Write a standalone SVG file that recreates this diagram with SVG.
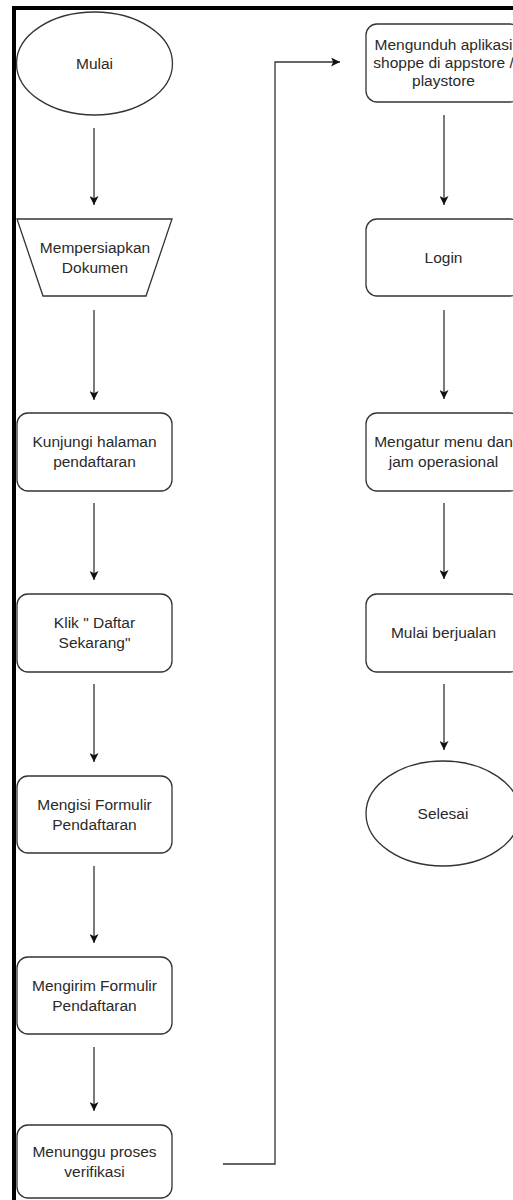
<svg xmlns="http://www.w3.org/2000/svg" width="513" height="1200" viewBox="0 0 513 1200">
<style>
.shape{fill:#ffffff;stroke:#333333;stroke-width:1.3}
.lbl{font-family:"Liberation Sans",Arial,sans-serif;font-size:15.5px;fill:#2a2a2a;text-anchor:middle}
.edge{fill:none;stroke:#333333;stroke-width:1.3}
</style>
<defs>
<marker id="arr" viewBox="0 0 10 10" refX="10" refY="5" markerWidth="10" markerHeight="9" markerUnits="userSpaceOnUse" orient="auto">
<path d="M0,0 L10,5 L0,10 L2.5,5 z" fill="#111111"/>
</marker>
</defs>
<rect x="0" y="0" width="513" height="1200" fill="#ffffff"/>
<path d="M14,1200 V8 H513" fill="none" stroke="#000000" stroke-width="4"/>

<g id="mulai">
<ellipse class="shape" cx="94.5" cy="63.5" rx="78" ry="51.5"/>
<text class="lbl" x="94.5" y="68.5">Mulai</text>
</g>
<g id="mempersiapkan">
<polygon class="shape" points="17,219 172,219 146,296 43,296"/>
<text class="lbl" x="95" y="253">Mempersiapkan</text>
<text class="lbl" x="95" y="273">Dokumen</text>
</g>
<g id="kunjungi">
<rect class="shape" x="17" y="413" width="155" height="78" rx="11"/>
<text class="lbl" x="94.5" y="447">Kunjungi halaman</text>
<text class="lbl" x="94.5" y="467">pendaftaran</text>
</g>
<g id="klik">
<rect class="shape" x="17" y="594" width="155" height="78" rx="11"/>
<text class="lbl" x="94.5" y="628">Klik &quot; Daftar</text>
<text class="lbl" x="94.5" y="648">Sekarang&quot;</text>
</g>
<g id="mengisi">
<rect class="shape" x="17" y="776" width="155" height="77" rx="11"/>
<text class="lbl" x="94.5" y="810">Mengisi Formulir</text>
<text class="lbl" x="94.5" y="830">Pendaftaran</text>
</g>
<g id="mengirim">
<rect class="shape" x="17" y="957" width="155" height="77" rx="11"/>
<text class="lbl" x="94.5" y="991">Mengirim Formulir</text>
<text class="lbl" x="94.5" y="1011">Pendaftaran</text>
</g>
<g id="menunggu">
<rect class="shape" x="17" y="1125" width="155" height="73" rx="11"/>
<text class="lbl" x="94.5" y="1157">Menunggu proses</text>
<text class="lbl" x="94.5" y="1177">verifikasi</text>
</g>

<g id="mengunduh">
<rect class="shape" x="366" y="24" width="155" height="78" rx="11"/>
<text class="lbl" x="443.5" y="50">Mengunduh aplikasi</text>
<text class="lbl" x="443.5" y="68">shoppe di appstore /</text>
<text class="lbl" x="443.5" y="86">playstore</text>
</g>
<g id="login">
<rect class="shape" x="366" y="219" width="155" height="77" rx="11"/>
<text class="lbl" x="443.5" y="263">Login</text>
</g>
<g id="mengatur">
<rect class="shape" x="366" y="413" width="155" height="78" rx="11"/>
<text class="lbl" x="443.5" y="447">Mengatur menu dan</text>
<text class="lbl" x="443.5" y="467">jam operasional</text>
</g>
<g id="berjualan">
<rect class="shape" x="366" y="594" width="155" height="78" rx="11"/>
<text class="lbl" x="443.5" y="638">Mulai berjualan</text>
</g>
<g id="selesai">
<ellipse class="shape" cx="443" cy="813.5" rx="77" ry="52.5"/>
<text class="lbl" x="443" y="818.5">Selesai</text>
</g>

<g id="connectors">
<line class="edge" x1="94" y1="128" x2="94" y2="205" marker-end="url(#arr)"/>
<line class="edge" x1="94" y1="310" x2="94" y2="400" marker-end="url(#arr)"/>
<line class="edge" x1="94" y1="503" x2="94" y2="580" marker-end="url(#arr)"/>
<line class="edge" x1="94" y1="684" x2="94" y2="762" marker-end="url(#arr)"/>
<line class="edge" x1="94" y1="866" x2="94" y2="943" marker-end="url(#arr)"/>
<line class="edge" x1="94" y1="1047" x2="94" y2="1111" marker-end="url(#arr)"/>
<polyline class="edge" points="223,1164 275,1164 275,62 340,62" marker-end="url(#arr)"/>
<line class="edge" x1="444" y1="115" x2="444" y2="205" marker-end="url(#arr)"/>
<line class="edge" x1="444" y1="310" x2="444" y2="399" marker-end="url(#arr)"/>
<line class="edge" x1="444" y1="503" x2="444" y2="579" marker-end="url(#arr)"/>
<line class="edge" x1="444" y1="684" x2="444" y2="750" marker-end="url(#arr)"/>
</g>
</svg>
